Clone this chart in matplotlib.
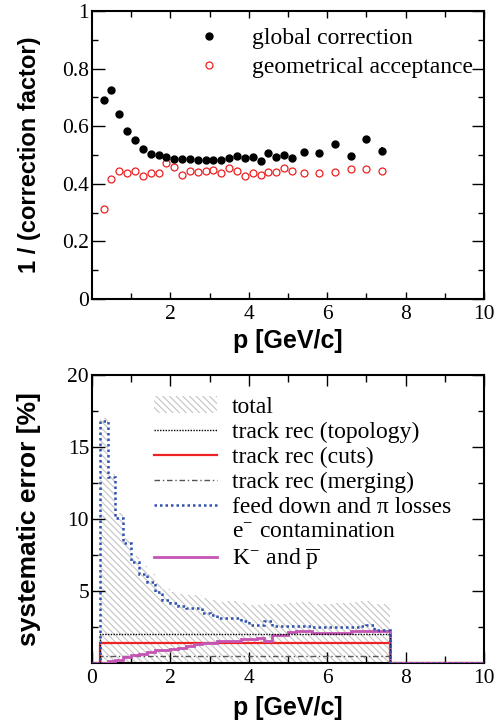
import numpy as np
import matplotlib
matplotlib.use("Agg")
import matplotlib.pyplot as plt
from matplotlib.lines import Line2D
from matplotlib.patches import Patch

# top panel: 1/(correction factor) vs p
p_points = [0.3, 0.5, 0.7, 0.9, 1.1, 1.3, 1.5, 1.7, 1.9, 2.1, 2.3, 2.5, 2.7, 2.9,
            3.1, 3.3, 3.5, 3.7, 3.9, 4.1, 4.3, 4.5, 4.7, 4.9, 5.1, 5.4, 5.8, 6.2,
            6.6, 7.0, 7.4]
global_corr = [0.692, 0.726, 0.644, 0.582, 0.553, 0.522, 0.504, 0.501, 0.493, 0.487,
               0.487, 0.485, 0.481, 0.483, 0.484, 0.483, 0.490, 0.496, 0.489, 0.493,
               0.479, 0.506, 0.492, 0.499, 0.489, 0.511, 0.506, 0.539, 0.496, 0.555,
               0.515]
global_err = [0, 0, 0, 0, 0, 0, 0, 0, 0, 0, 0, 0, 0, 0, 0, 0, 0, 0, 0, 0, 0, 0, 0, 0,
              0, 0, 0, 0, 0, 0.012, 0.012]
geom_acc = [0.312, 0.415, 0.445, 0.438, 0.443, 0.426, 0.437, 0.439, 0.471, 0.458,
            0.432, 0.444, 0.442, 0.443, 0.449, 0.436, 0.454, 0.444, 0.427, 0.438,
            0.432, 0.441, 0.441, 0.456, 0.445, 0.436, 0.439, 0.442, 0.450, 0.450,
            0.445]

# bottom panel: systematic errors [%] in bins of p
bin_edges = [0.2, 0.4, 0.6, 0.8, 1.0, 1.2, 1.4, 1.6, 1.8, 2.0, 2.2, 2.4, 2.6, 2.8,
             3.0, 3.2, 3.4, 3.6, 3.8, 4.0, 4.2, 4.4, 4.6, 4.8, 5.0, 5.2, 5.4, 5.6,
             5.8, 6.0, 6.2, 6.4, 6.6, 6.8, 7.0, 7.2, 7.4, 7.6]
feed_down = [16.8, 12.9, 10.1, 8.3, 7.0, 6.2, 5.6, 4.9, 4.4, 4.15, 3.95, 3.85, 3.8,
             3.5, 3.35, 3.1, 3.1, 3.1, 2.95, 2.65, 2.65, 2.9, 2.55, 2.55, 2.55, 2.55,
             2.55, 2.5, 2.5, 2.5, 2.5, 2.5, 2.5, 2.6, 2.65, 2.3, 2.3]
kaon_pbar = [0.02, 0.15, 0.2, 0.4, 0.55, 0.65, 0.75, 0.88, 0.92, 1.0, 1.05, 1.15,
             1.3, 1.37, 1.4, 1.5, 1.55, 1.55, 1.65, 1.7, 1.75, 1.55, 1.95, 1.95,
             2.15, 2.2, 2.2, 2.05, 2.05, 2.05, 2.1, 2.1, 2.25, 2.25, 2.25, 2.25, 2.25]
total = [17.0, 13.15, 10.4, 8.7, 7.45, 6.72, 6.18, 5.57, 5.14, 4.95, 4.8, 4.72, 4.7,
         4.5, 4.38, 4.24, 4.28, 4.28, 4.2, 4.02, 4.04, 4.1, 4.07, 4.07, 4.2, 4.22,
         4.22, 4.12, 4.12, 4.12, 4.14, 4.14, 4.25, 4.3, 4.33, 4.07, 4.07]
topology = [2.0] * 37
cuts = [1.41] * 37
merging = [0.5] * 37

plt.rcParams['font.family'] = ['Liberation Serif', 'DejaVu Serif']
plt.rcParams['mathtext.fontset'] = 'stix'
plt.rcParams['hatch.linewidth'] = 0.8

serif = 'Liberation Serif'
sans = 'Liberation Sans'

fig = plt.figure(figsize=(4.94, 7.25), dpi=100)
ax1 = fig.add_axes([0.186, 0.5876, 0.794, 0.3972])
ax2 = fig.add_axes([0.186, 0.0855, 0.794, 0.3973])


def style_axes(ax, xmaj, xmin):
    for s in ax.spines.values():
        s.set_linewidth(1.5)
    ax.tick_params(which='both', direction='in', top=True, right=True,
                   labelsize=15.5, width=1.0)
    ax.tick_params(axis='y', which='major', length=9, pad=2)
    ax.tick_params(axis='y', which='minor', length=4.5)
    ax.tick_params(axis='x', which='major', length=xmaj, pad=4)
    ax.tick_params(axis='x', which='minor', length=xmin)
    for lab in ax.get_xticklabels() + ax.get_yticklabels():
        lab.set_fontfamily(serif)


# ---- top panel
ax1.plot(p_points, geom_acc, 'o', mfc='none', mec='#ee2020', ms=5, mew=0.9,
         label='geometrical acceptance', zorder=3)
ax1.errorbar(p_points, global_corr, yerr=global_err, fmt='o', color='black', ms=5,
             elinewidth=1.2, capsize=0, label='global correction', zorder=4)
ax1.set_xlim(0, 10)
ax1.set_ylim(0, 1)
ax1.set_xticks([2, 4, 6, 8, 10])
ax1.set_xticks([1, 3, 5, 7, 9], minor=True)
ax1.set_yticks([0, 0.2, 0.4, 0.6, 0.8, 1.0])
ax1.set_yticklabels(['0', '0.2', '0.4', '0.6', '0.8', '1'])
ax1.set_yticks([0.1, 0.3, 0.5, 0.7, 0.9], minor=True)
style_axes(ax1, 5, 4)
ax1.set_xlabel('p [GeV/c]', fontfamily=sans, fontweight='bold', fontsize=18)
ax1.xaxis.set_label_coords(0.5, -0.105)
ax1.set_ylabel('1 / (correction factor)', fontfamily=sans, fontweight='bold',
               fontsize=17)
ax1.yaxis.set_label_coords(-0.13, 0.5)

h1 = [Line2D([], [], ls='none', marker='o', color='black', ms=5),
      Line2D([], [], ls='none', marker='o', mfc='none', mec='#ee2020', ms=5, mew=0.9)]
ax1.legend(h1, ['global correction', 'geometrical acceptance'], loc='upper left',
           bbox_to_anchor=(0.274, 0.943), frameon=False, fontsize=17,
           handlelength=0.8, handletextpad=1.42, borderpad=0, borderaxespad=0,
           labelspacing=0.31)

# ---- bottom panel
edges = np.concatenate([[0.0], bin_edges, [10.0]])


def padded(v):
    return np.concatenate([[0.0], v, [0.0]])


ax2.stairs(total, bin_edges, fill=True, facecolor='none', edgecolor='#c4c4c4',
           hatch='\\' * 5, linewidth=0, zorder=1)
ax2.stairs(padded(merging), edges, color='#555555', lw=1.0,
           linestyle=(0, (4, 2, 1, 2)), zorder=2)
ax2.stairs(padded(cuts), edges, color='#ee2222', lw=1.6, zorder=3)
ax2.stairs(padded(kaon_pbar), edges, color='#c455b5', lw=2.0, zorder=4)
ax2.stairs(padded(topology), edges, color='black', lw=1.0,
           linestyle=(0, (1, 1)), zorder=5)
ax2.stairs(padded(feed_down), edges, color='#2f52b0', lw=1.8,
           linestyle=(0, (1, 1.2)), zorder=6)

ax2.set_xlim(0, 10)
ax2.set_ylim(0, 20)
ax2.set_xticks([0, 2, 4, 6, 8, 10])
ax2.set_xticks([1, 3, 5, 7, 9], minor=True)
ax2.set_yticks([5, 10, 15, 20])
ax2.set_yticks([2.5, 7.5, 12.5, 17.5], minor=True)
style_axes(ax2, 8, 5)
ax2.set_xlabel('p [GeV/c]', fontfamily=sans, fontweight='bold', fontsize=18)
ax2.xaxis.set_label_coords(0.5, -0.115)
ax2.set_ylabel('systematic error [%]', fontfamily=sans, fontweight='bold',
               fontsize=19)
ax2.yaxis.set_label_coords(-0.13, 0.5)

h2 = [Patch(facecolor='none', edgecolor='#c4c4c4', hatch='\\' * 5, linewidth=0),
      Line2D([], [], color='black', lw=1.0, linestyle=(0, (1, 1))),
      Line2D([], [], color='#ee2222', lw=1.6),
      Line2D([], [], color='#555555', lw=1.0, linestyle=(0, (4, 2, 1, 2))),
      Line2D([], [], color='#2f52b0', lw=1.8, linestyle=(0, (1, 1.2))),
      Line2D([], [], color='none'),
      Line2D([], [], color='#c455b5', lw=2.0)]
labels2 = ['total', 'track rec (topology)', 'track rec (cuts)',
           'track rec (merging)', 'feed down and π losses',
           r'e$^{\mathregular{-}}$ contamination',
           r'K$^{\mathregular{-}}$ and $\overline{\mathregular{p}}$']
ax2.legend(h2, labels2, loc='upper left', bbox_to_anchor=(0.158, 0.926),
           frameon=False, fontsize=17, handlelength=2.67, handletextpad=0.64,
           borderpad=0, borderaxespad=0, labelspacing=0.15)

fig.savefig('out.png', dpi=100)
